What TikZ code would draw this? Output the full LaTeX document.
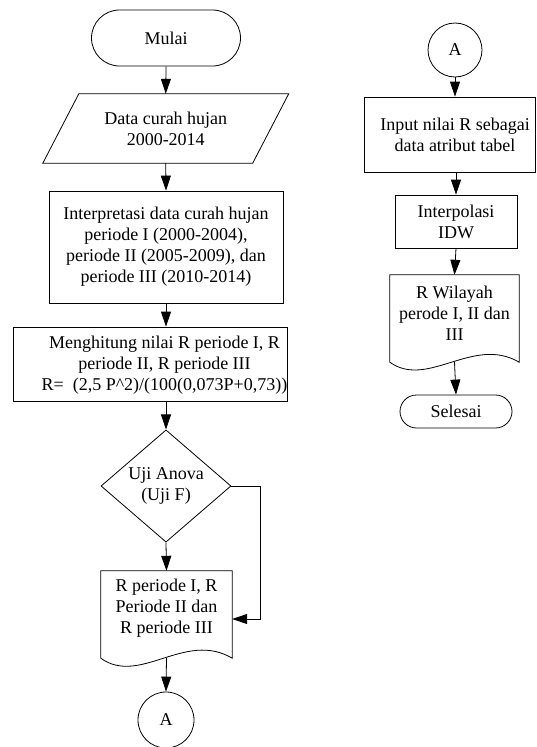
\documentclass[tikz,border=0pt]{standalone}
\usepackage{fontspec}
\setmainfont{Liberation Serif}
\usetikzlibrary{arrows.meta,shapes.geometric,calc}
\begin{document}
\begin{tikzpicture}[x=1pt,y=-1pt,
  every node/.style={font=\fontsize{18}{21}\selectfont, align=center, inner sep=0pt},
  line/.style={line width=0.8pt},
  box/.style={draw, line width=0.8pt},
  arr/.style={line width=0.8pt,-{Triangle[length=15pt,width=10pt]}}]
\path[fill=white] (0,0) rectangle (536,747);
\useasboundingbox (0,0) rectangle (536,747);

% left column
\node[box, rounded corners=28pt, minimum width=149pt, minimum height=56pt] (mulai) at (166,38) {Mulai};

\node[minimum width=209.5pt, minimum height=69pt] (data) at (165.75,128.5) {Data curah hujan\\2000-2014};
\draw[line] ([xshift=18pt]data.north west) -- ([xshift=18pt]data.north east) -- ([xshift=-18pt]data.south east) -- ([xshift=-18pt]data.south west) -- cycle;

\node[box, minimum width=234pt, minimum height=112pt] (interp) at (166,247) {Interpretasi data curah hujan\\periode I (2000-2004),\\periode II (2005-2009), dan\\periode III (2010-2014)};

\node[box, minimum width=274pt, minimum height=74pt] (hitung) at (150,364) {};
\node (hitungtxt) at (164.5,365) {Menghitung nilai R periode I, R\\periode II, R periode III\\R=\ \ (2,5 P\textasciicircum 2)/(100(0,073P+0,73))};

\node[box, diamond, minimum width=130pt, minimum height=112pt] (uji) at (166,486) {Uji Anova\\(Uji F)};

\node[minimum width=131pt, minimum height=75pt] (hasil) at (166.5,608.5) {R periode I, R\\Periode II dan\\R periode III};
\draw[line] (hasil.north west) -- (hasil.north east) -- ([yshift=-12pt]hasil.south east) .. controls +(-47,-28) and +(39,28) .. ([yshift=-12pt]hasil.south west) -- cycle;
\coordinate (hasilbot) at ($(hasil.south)+(0,12)$);

\node[box, circle, minimum size=56pt] (conA) at (166,720) {A};

% right column
\node[box, circle, minimum size=54pt] (conB) at (455,50) {A};
\node[box, minimum width=171pt, minimum height=75pt] (input) at (449.5,134.5) {};
\node (inputtxt) at (455,135) {Input nilai R sebagai\\data atribut tabel};
\node[box, minimum width=122pt, minimum height=53pt] (interpol) at (456,221.5) {Interpolasi\\IDW};
\node[minimum width=129pt, minimum height=77pt] (wil) at (454.5,313.5) {R Wilayah\\perode I, II dan\\III};
\draw[line] (wil.north west) -- (wil.north east) -- ([yshift=-10pt]wil.south east) .. controls +(-46,-27) and +(38,27) .. ([yshift=-10pt]wil.south west) -- cycle;
\coordinate (wilbot) at ($(wil.south)+(0,10)$);
\node[box, rounded corners=16.5pt, minimum width=112pt, minimum height=33pt] (selesai) at (456,411.5) {Selesai};

% connectors
\draw[arr] (mulai.south) -- (data.north);
\draw[arr] (data.south) -- (interp.north);
\draw[arr] (interp.south) -- (interp.south |- hitung.north);
\draw[arr] (interp.south |- hitung.south) -- (uji.north);
\draw[arr] (uji.south) -- (hasil.north);
\coordinate (bend) at (260,486);
\draw[arr] (uji.east) -- (bend) |- ([yshift=-10.5pt]hasil.east);
\draw[arr] (hasilbot) -- (conA.north);
\draw[arr] (conB.south) -- (conB.south |- input.north);
\draw[arr] (interpol.north |- input.south) -- (interpol.north);
\draw[arr] (interpol.south) -- (wil.north);
\draw[arr] (wilbot) -- (selesai.north);
\end{tikzpicture}
\end{document}
